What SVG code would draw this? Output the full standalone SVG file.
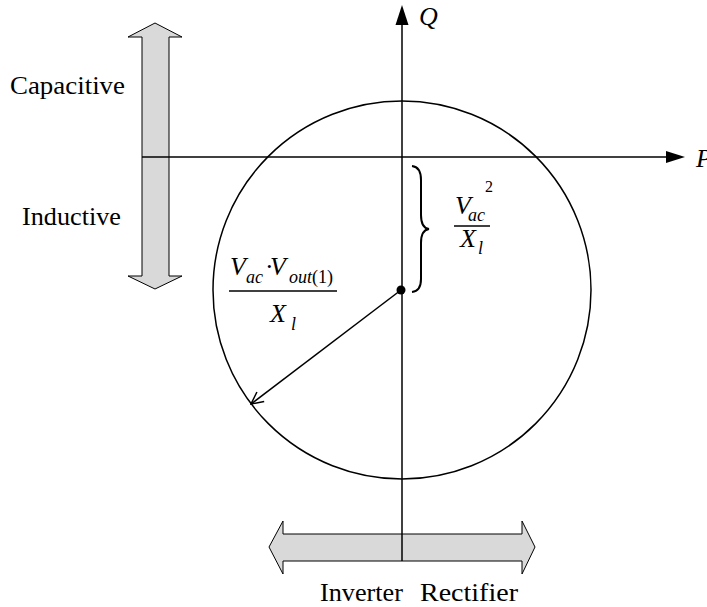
<svg xmlns="http://www.w3.org/2000/svg" width="707" height="607" viewBox="0 0 707 607">
<style>
.ln{stroke:#000;stroke-width:1.5;fill:none}
.ga{fill:#d9d9d9;stroke:#000;stroke-width:1}
text{font-family:'Liberation Serif','DejaVu Serif','Times New Roman',serif;fill:#000}
.t{font-size:26px}
.m{font-style:italic}
.s{font-size:18px}
</style>
<defs>
<marker id="open" viewBox="0 0 14 14" refX="13" refY="7" markerWidth="14" markerHeight="14" markerUnits="userSpaceOnUse" orient="auto">
<path d="M1 1 L13 7 L1 13" fill="none" stroke="#000" stroke-width="1.5"/>
</marker>
</defs>
<rect width="707" height="607" fill="#fff"/>
<g id="reactive-arrow">
<path class="ga" d="M155 23 L182 37 L169 37 L169 276 L182 276 L155 289 L128 276 L142 276 L142 37 L128 37 Z"/>
</g>
<g id="active-arrow">
<path class="ga" d="M269 547 L283 521 L283 534 L522 534 L522 521 L535 547 L522 574 L522 561 L283 561 L283 574 Z"/>
</g>
<g id="circle">
<circle class="ln" cx="402" cy="290" r="189"/>
</g>
<g id="connectors">
<line class="ln" x1="142" y1="157" x2="668" y2="157"/>
<path d="M685 157 L666 151 L666 163 Z" fill="#000"/>
<line class="ln" x1="402" y1="561" x2="402" y2="22"/>
<path d="M402 5 L395.5 25 L408.5 25 Z" fill="#000"/>
<line class="ln" x1="401" y1="290" x2="251" y2="404" marker-end="url(#open)"/>
<circle cx="401" cy="290" r="4.5" fill="#000"/>
<path d="M412 166 Q421 167 421 180 L421 215 Q421 228 429 229 Q421 230 421 243 L421 279 Q421 291 412 292" fill="none" stroke="#000" stroke-width="2"/>
</g>
<g id="labels">
<text class="t" x="10" y="94" textLength="115" lengthAdjust="spacingAndGlyphs">Capacitive</text>
<text class="t" x="22" y="225" textLength="99" lengthAdjust="spacingAndGlyphs">Inductive</text>
<text class="t" x="320" y="601" textLength="83" lengthAdjust="spacingAndGlyphs">Inverter</text>
<text class="t" x="420" y="601" textLength="98" lengthAdjust="spacingAndGlyphs">Rectifier</text>
<text class="m" x="419" y="25" font-size="26">Q</text>
<text class="m" x="696" y="167" font-size="26">P</text>
</g>
<g id="formula-radius">
<text class="m" font-size="26"><tspan x="230" y="275">V</tspan><tspan class="s" x="246" y="283">ac</tspan><tspan font-style="normal" x="265" y="275">·</tspan><tspan x="270" y="275">V</tspan><tspan class="s" x="289" y="283">out</tspan><tspan class="s" font-style="normal">(1)</tspan></text>
<line x1="229" y1="291" x2="337" y2="291" stroke="#000" stroke-width="1.5"/>
<text class="m" font-size="26"><tspan x="270" y="322">X</tspan><tspan class="s" x="291" y="330">l</tspan></text>
</g>
<g id="formula-offset">
<text class="m" font-size="26"><tspan x="455" y="214">V</tspan><tspan class="s" x="468" y="221">ac</tspan><tspan font-style="normal" font-size="16" x="485" y="192">2</tspan></text>
<line x1="454" y1="226" x2="490" y2="226" stroke="#000" stroke-width="1.5"/>
<text class="m" font-size="26"><tspan x="460" y="247">X</tspan><tspan class="s" x="478" y="254">l</tspan></text>
</g>
</svg>
